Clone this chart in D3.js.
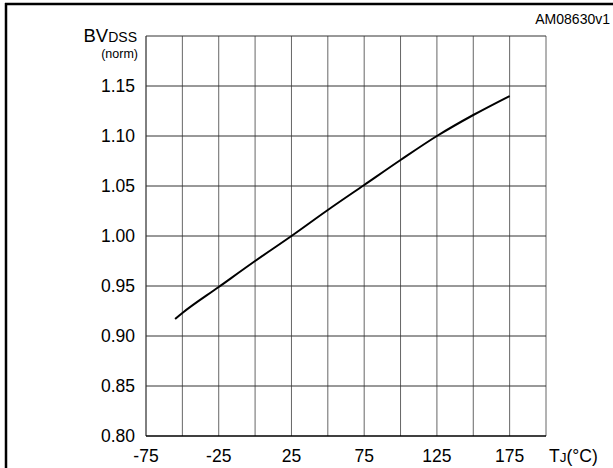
<!DOCTYPE html>
<html>
<head>
<meta charset="utf-8">
<script src="https://cdn.jsdelivr.net/npm/d3@7"></script>
<style>
  html, body { margin: 0; padding: 0; background: #fff; overflow: hidden; }
  svg { display: block; font-family: "Liberation Sans", Arial, Helvetica, sans-serif; }
</style>
</head>
<body>
<svg id="chart" width="613" height="468"></svg>
<script>
// Normalized breakdown voltage vs. junction temperature
const temperature = [-55, -50, -25, 0, 25, 50, 75, 100, 125, 150, 175];
const bvdssNorm   = [0.917, 0.923, 0.949, 0.975, 1.000, 1.026, 1.051, 1.076, 1.100, 1.121, 1.140];

const xTickValues = [-75, -25, 25, 75, 125, 175];
const xGridValues = [-75, -50, -25, 0, 25, 50, 75, 100, 125, 150, 175, 200];
const yTickValues = [0.80, 0.85, 0.90, 0.95, 1.00, 1.05, 1.10, 1.15];
const yGridValues = [0.80, 0.85, 0.90, 0.95, 1.00, 1.05, 1.10, 1.15, 1.20];

const svg = d3.select("#chart");
const plot = { left: 146, right: 546, top: 36, bottom: 436 };

const x = d3.scaleLinear().domain([-75, 200]).range([plot.left, plot.right]);
const y = d3.scaleLinear().domain([0.80, 1.20]).range([plot.bottom, plot.top]);

// outer frame: left and top edges
svg.append("line").attr("x1", 6).attr("x2", 6).attr("y1", 3).attr("y2", 468)
  .attr("stroke", "#000").attr("stroke-width", 2.5);
svg.append("line").attr("x1", 5).attr("x2", 613).attr("y1", 4).attr("y2", 4)
  .attr("stroke", "#000").attr("stroke-width", 2.5);

// vertical grid
svg.append("g").selectAll("line").data(xGridValues).join("line")
  .attr("x1", d => x(d)).attr("x2", d => x(d))
  .attr("y1", plot.top).attr("y2", plot.bottom)
  .attr("stroke", d => d === -75 ? "#000" : "#666").attr("stroke-width", 1);

// horizontal grid
svg.append("g").selectAll("line").data(yGridValues).join("line")
  .attr("x1", plot.left).attr("x2", plot.right)
  .attr("y1", d => y(d)).attr("y2", d => y(d))
  .attr("stroke", d => d === 0.80 ? "#000" : "#333")
  .attr("stroke-width", d => d === 0.80 ? 1.6 : 1);

// y tick labels
svg.append("g").selectAll("text").data(yTickValues).join("text")
  .attr("x", 135).attr("y", d => y(d)).attr("dy", "0.36em")
  .attr("text-anchor", "end").attr("font-size", 17.5)
  .text(d => d3.format(".2f")(d));

// x tick labels
svg.append("g").selectAll("text").data(xTickValues).join("text")
  .attr("x", d => x(d)).attr("y", 462)
  .attr("text-anchor", "middle").attr("font-size", 17.5)
  .text(d => d);

// curve
const line = d3.line().x((d, i) => x(temperature[i])).y(d => y(d)).curve(d3.curveMonotoneX);
svg.append("path").datum(bvdssNorm)
  .attr("d", line).attr("fill", "none").attr("stroke", "#000").attr("stroke-width", 2);

// axis titles
const yTitle = svg.append("text").attr("x", 137).attr("y", 42)
  .attr("text-anchor", "end").attr("font-size", 18.5);
yTitle.append("tspan").text("BV");
yTitle.append("tspan").attr("font-size", 14).text("DSS");
svg.append("text").attr("x", 138).attr("y", 58).attr("text-anchor", "end")
  .attr("font-size", 12.5).text("(norm)");

const xTitle = svg.append("text").attr("x", 549).attr("y", 462).attr("font-size", 17.5);
xTitle.append("tspan").text("T");
xTitle.append("tspan").attr("font-size", 13.5).text("J");
xTitle.append("tspan").text("(°C)");

svg.append("text").attr("x", 610).attr("y", 24).attr("text-anchor", "end")
  .attr("font-size", 14).text("AM08630v1");
</script>
</body>
</html>
